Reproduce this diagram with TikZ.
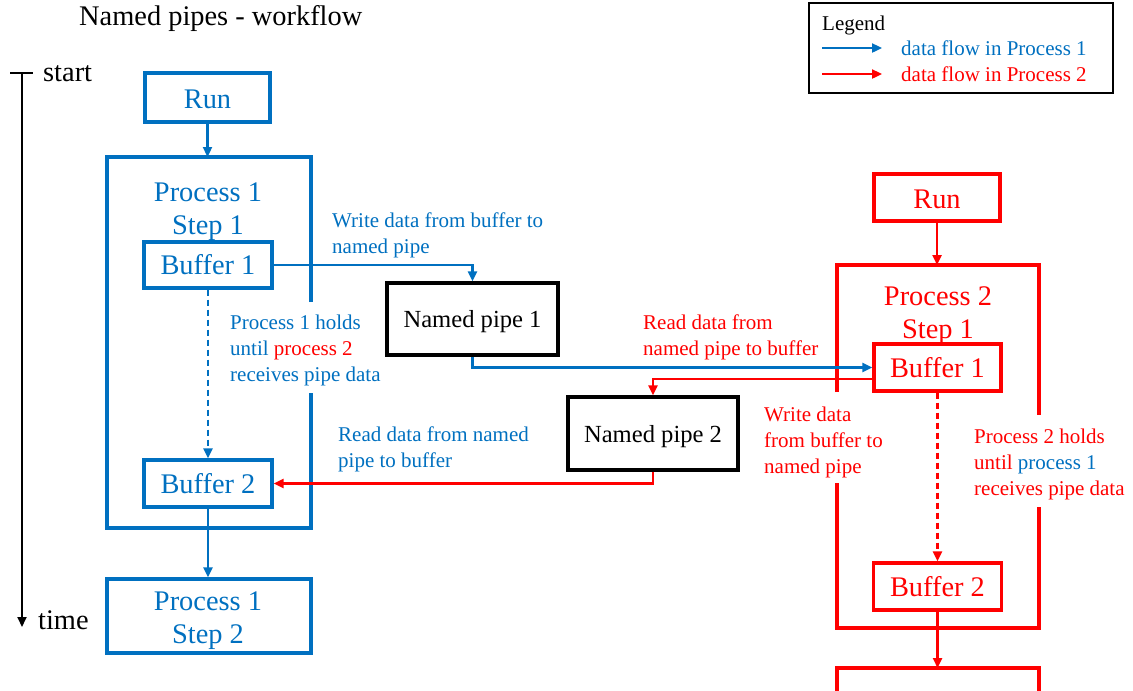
\documentclass[tikz,border=0pt]{standalone}
\usepackage{fontspec}
\setmainfont{Liberation Serif}
\usetikzlibrary{arrows.meta}
\definecolor{pblue}{HTML}{0070C0}
\definecolor{pred}{HTML}{FF0000}
\tikzset{
  big/.style={font=\fontsize{28.4}{33}\selectfont},
  mid/.style={font=\fontsize{24.6}{30}\selectfont},
  small/.style={font=\fontsize{21}{26}\selectfont},
  box/.style={draw, line width=3.3pt, big, inner sep=0pt, minimum height=47pt},
  pipebox/.style={draw=black, line width=3.3pt, mid, inner sep=0pt},
  flow/.style={line width=2.3pt, -{Triangle[length=10pt,width=9pt]}},
  frame/.style={line width=3.5pt},
  lbl/.style={small, align=left, anchor=north west, inner sep=0pt},
}
\begin{document}
\begin{tikzpicture}[x=1pt,y=-1pt]
\useasboundingbox (0,0) rectangle (1133,691);

% title
\node[big, anchor=base west, inner sep=0pt] (title) at (79,25) {Named pipes - workflow};

% timeline
\coordinate (tstart) at (22,73);
\coordinate (tend) at (22,627);
\coordinate (tbarL) at (10,73);
\coordinate (tbarR) at (33,73);
\draw[line width=1.8pt] (tbarL) -- (tbarR);
\draw[line width=1.8pt, -{Triangle[length=10pt,width=9pt]}] (tstart) -- (tend);
\node[big, anchor=base west, inner sep=0pt] (start) at (43,81) {start};
\node[big, anchor=base west, inner sep=0pt] (time) at (38,629) {time};

% legend
\node[draw=black, line width=1.8pt, minimum width=304pt, minimum height=90pt, inner sep=0pt] (legend) at (961,48) {};
\node[small, anchor=base west, inner sep=0pt] (legt) at (822,30) {Legend};
\coordinate (lb1) at (822,48);
\coordinate (lb2) at (882,48);
\coordinate (lr1) at (822,74);
\coordinate (lr2) at (882,74);
\draw[flow, pblue] (lb1) -- (lb2);
\draw[flow, pred] (lr1) -- (lr2);
\node[small, pblue, anchor=base west, inner sep=0pt] (legb) at (901,55) {data flow in Process 1};
\node[small, pred, anchor=base west, inner sep=0pt] (legr) at (901,81) {data flow in Process 2};

% ---------- Process 1 ----------
\node[box, pblue, minimum width=125pt, minimum height=49pt] (run1) at (207.5,97.5) {};
\node[big, pblue, inner sep=0pt] (run1t) at (207.5,99.5) {Run};
\coordinate (p1top) at (207.5,157);
\draw[frame, pblue] (311,302) -- (311,157) -- (107,157) -- (107,528) -- (311,528) -- (311,393);
\node[big, pblue, align=center, inner sep=0pt] (p1title) at (208,212) {Process 1\\Step 1};
\node[box, pblue, minimum width=128pt, minimum height=46pt] (buf1) at (208,265) {Buffer 1};
\node[box, pblue, minimum width=128pt, minimum height=47pt] (buf2) at (208,483.5) {Buffer 2};
\node[box, pblue, minimum width=204pt, minimum height=74pt] (step2) at (209,616) {};
\node[big, pblue, align=center, inner sep=0pt] (step2t) at (208,621) {Process 1\\Step 2};

% named pipes
\node[pipebox, minimum width=171pt, minimum height=72pt] (pipe1) at (472.5,319) {};
\node[mid, inner sep=0pt] (pipe1t) at (472.5,321.5) {Named pipe 1};
\node[pipebox, minimum width=170pt, minimum height=73pt] (pipe2) at (653,433.5) {};
\node[mid, inner sep=0pt] (pipe2t) at (653,436.5) {Named pipe 2};

% ---------- Process 2 ----------
\node[box, pred, minimum width=126pt, minimum height=47pt] (run2) at (937,197.5) {};
\node[big, pred, inner sep=0pt] (run2t) at (937,199.5) {Run};
\coordinate (p2top) at (937,265);
\draw[frame, pred] (837,392) -- (837,265) -- (1039,265) -- (1039,415);
\draw[frame, pred] (837,483) -- (837,628) -- (1039,628) -- (1039,507);
\node[big, pred, align=center, inner sep=0pt] (p2title) at (938,316) {Process 2\\Step 1};
\node[box, pred, minimum width=127pt, minimum height=47pt] (b1p2) at (937.5,367.5) {Buffer 1};
\node[box, pred, minimum width=128pt, minimum height=47pt] (b2p2) at (937.5,586.5) {Buffer 2};
\coordinate (p3top) at (937.5,668);
\draw[frame, pred] (837,692) -- (837,668) -- (1039,668) -- (1039,692);

% connectors process 1
\draw[flow, pblue] (run1.south) -- (p1top);
\draw[flow, pblue] (buf1.east) -| (pipe1.north);
\draw[flow, pblue] (pipe1.south) |- (b1p2.west);
\draw[flow, pblue, dash pattern=on 6pt off 4pt] (buf1.south) -- (buf2.north);
\draw[flow, pblue] (buf2.south) -- (buf2.south |- step2.north);

% connectors process 2
\draw[flow, pred] (run2.south) -- (p2top);
\draw[flow, pred] ([yshift=-11.5pt]b1p2.west) -| (pipe2.north);
\draw[flow, pred] (pipe2.south) |- (buf2.east);
\draw[flow, pred, dash pattern=on 6pt off 4pt] (b1p2.south) -- (b2p2.north);
\draw[flow, pred] (b2p2.south) -- (p3top);

% labels
\node[lbl, pblue] (lw1) at (332,213) {Write data from buffer to\\named pipe};
\node[lbl, pblue] (lh1) at (230,315) {Process 1 holds\\until \textcolor{pred}{process 2}\\receives pipe data};
\node[lbl, pred] (lr2) at (643,315) {Read data from\\named pipe to buffer};
\node[lbl, pred] (lw2) at (764,407) {Write data\\from buffer to\\named pipe};
\node[lbl, pred] (lh2) at (974,429) {Process 2 holds\\until \textcolor{pblue}{process 1}\\receives pipe data};
\node[lbl, pblue] (lr1) at (338,427) {Read data from named\\pipe to buffer};
\end{tikzpicture}
\end{document}
